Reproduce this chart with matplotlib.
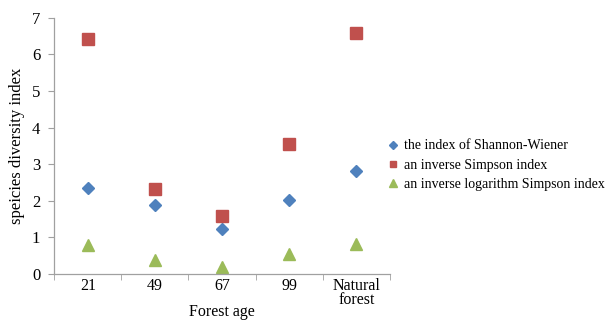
import matplotlib.pyplot as plt
from matplotlib.ticker import FixedLocator

plt.rcParams['font.family'] = ['Liberation Serif', 'DejaVu Serif']

# Diversity indices per forest age class
ages = ["21", "49", "67", "99", "Natural\nforest"]
shannon = [2.35, 1.89, 1.23, 2.02, 2.81]
inv_simpson = [6.42, 2.32, 1.58, 3.55, 6.60]
inv_log_simpson = [0.79, 0.38, 0.19, 0.55, 0.82]

x = list(range(len(ages)))

fig = plt.figure(figsize=(6.16, 3.2), dpi=100)
ax = fig.add_axes([0.088, 0.144, 0.545, 0.8])

ax.plot(x, shannon, linestyle="none", marker="D", markersize=6.5,
        color="#4F81BD", label="the index of Shannon-Wiener")
ax.plot(x, inv_simpson, linestyle="none", marker="s", markersize=8,
        color="#C0504D", label="an inverse Simpson index")
ax.plot(x, inv_log_simpson, linestyle="none", marker="^", markersize=9,
        color="#9BBB59", label="an inverse logarithm Simpson index")

ax.set_xlim(-0.5, len(ages) - 0.5)
ax.set_ylim(0, 7)
ax.set_yticks(range(0, 8))
ax.set_xticks(x)
ax.set_xticklabels(ages, linespacing=0.85)
ax.xaxis.set_minor_locator(FixedLocator([i - 0.5 for i in range(len(ages) + 1)]))
ax.tick_params(axis="x", which="major", length=0, pad=3, labelsize=11.5)
ax.tick_params(axis="x", which="minor", length=4, color="#a0a0a0", direction="out")
ax.tick_params(axis="y", length=4, color="#a0a0a0", labelsize=12, pad=6)

for side in ("top", "right"):
    ax.spines[side].set_visible(False)
for side in ("left", "bottom"):
    ax.spines[side].set_color("#a0a0a0")
    ax.spines[side].set_linewidth(0.9)

ax.set_ylabel("speicies diversity index", fontsize=12, labelpad=5)
ax.set_xlabel("Forest age", fontsize=11.5, labelpad=-3)

fig.legend(loc="center left", bbox_to_anchor=(0.622, 0.484), frameon=False,
           fontsize=10, handlelength=0.6, handletextpad=0.5, labelspacing=0.45,
           markerscale=0.6, borderaxespad=0.0)

fig.savefig("out.png", dpi=100)
